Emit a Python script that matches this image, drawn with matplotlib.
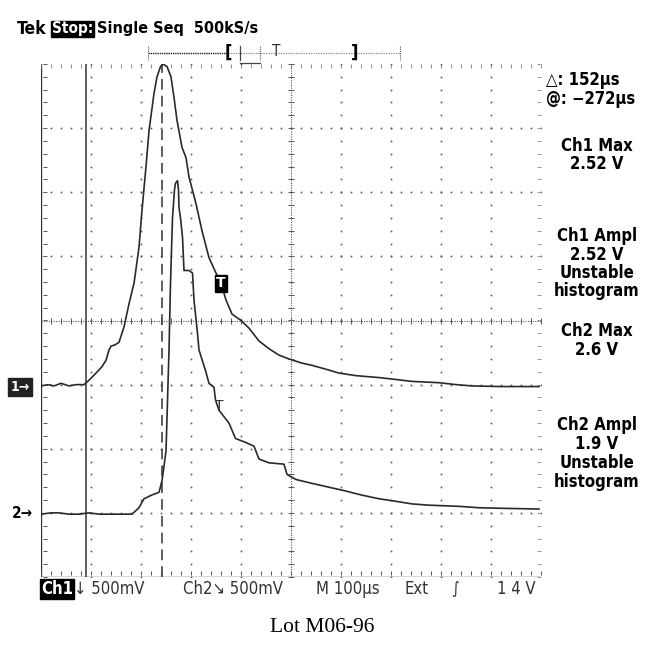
import numpy as np
import matplotlib.pyplot as plt

# screen samples: time in us from the left edge, volts
ch1_t = [0, 14, 26, 40, 56, 70, 86, 92, 100, 110, 122, 130, 136, 140, 148, 156, 166, 176,
         186, 196, 202, 210, 216, 226, 232, 239, 244, 252, 260, 266, 272, 282, 290, 296,
         310, 322, 336, 350, 360, 370, 382, 400, 416, 436, 456, 476, 496, 520, 542, 570,
         596, 630, 676, 710, 742, 770, 796, 830, 862, 920, 996]
ch1_v = [-0.01, 0.0, -0.01, 0.01, -0.01, 0.0, 0.0, 0.02, 0.05, 0.09, 0.14, 0.19, 0.27, 0.30,
         0.31, 0.33, 0.45, 0.63, 0.79, 1.07, 1.36, 1.70, 1.98, 2.27, 2.40, 2.48, 2.50, 2.48,
         2.40, 2.24, 2.06, 1.85, 1.77, 1.62, 1.41, 1.20, 0.99, 0.87, 0.79, 0.66, 0.55, 0.50,
         0.44, 0.34, 0.28, 0.23, 0.20, 0.17, 0.15, 0.12, 0.09, 0.07, 0.055, 0.04, 0.025,
         0.02, 0.015, 0.0, -0.01, -0.015, -0.015]

ch2_t = [0, 20, 36, 56, 76, 96, 116, 136, 156, 182, 196, 206, 222, 236, 242, 250, 252, 256,
         259, 263, 267, 269, 273, 275, 276, 279, 283, 286, 296, 303, 306, 313, 316, 329,
         336, 346, 349, 356, 376, 389, 409, 426, 436, 456, 486, 492, 510, 542, 576, 610,
         640, 676, 710, 742, 776, 810, 840, 876, 930, 996]
ch2_v = [-0.01, 0.0, 0.0, -0.01, -0.01, 0.0, -0.01, -0.01, -0.01, -0.01, 0.04, 0.11, 0.14,
         0.16, 0.25, 0.48, 0.74, 1.27, 1.79, 2.30, 2.52, 2.57, 2.59, 2.52, 2.38, 2.30, 2.15,
         1.89, 1.89, 1.87, 1.66, 1.40, 1.27, 1.11, 1.01, 0.98, 0.88, 0.80, 0.70, 0.58, 0.55,
         0.52, 0.42, 0.39, 0.38, 0.30, 0.26, 0.23, 0.20, 0.17, 0.14, 0.11, 0.09, 0.07, 0.06,
         0.055, 0.05, 0.04, 0.035, 0.03]

VOLTS_PER_DIV = 0.5
CH1_GND = -1.0   # divisions from screen centre
CH2_GND = -3.0
cursors = [90, 242]   # us, delta = 152 us

header = "Tek"
state = "Stop:"
mode = "Single Seq  500kS/s"
readouts = [("\u25b3: 152\u00b5s", 80), ("@: \u2212272\u00b5s", 99)]
measurements = ["Ch1 Max", "2.52 V", "Ch1 Ampl", "2.52 V", "Unstable", "histogram",
                "Ch2 Max", "2.6 V", "Ch2 Ampl", "1.9 V", "Unstable", "histogram"]
meas_y = [146, 164, 236, 255, 273, 291, 331, 350, 425, 444, 463, 482]
caption = "Lot M06-96"

W, H = 652, 646
fig = plt.figure(figsize=(W / 100, H / 100), dpi=100)
fig.patch.set_facecolor('white')

# overlay in pixel coordinates for the scope readouts
ov = fig.add_axes([0, 0, 1, 1])
ov.set_xlim(0, W)
ov.set_ylim(H, 0)
ov.axis('off')

# graticule: 10 x 8 divisions
ax = fig.add_axes([41 / W, (H - 577) / H, 500 / W, 513 / H])
ax.set_xlim(0, 1000)
ax.set_ylim(-4, 4)
ax.axis('off')

dot = dict(ls='none', marker='s', ms=1.2, color='#555555', mew=0)
xs = np.arange(0, 1000.1, 20)
ys = np.arange(-4, 4.001, 0.2)
for gy in [-3, -2, -1, 1, 2, 3]:
    ax.plot(xs, np.full_like(xs, gy), **dot)
for gx in [100, 200, 300, 400, 600, 700, 800, 900]:
    ax.plot(np.full_like(ys, gx), ys, **dot)

# centre crosshair with minor ticks
ax.plot([0, 1000], [0, 0], color='#555555', lw=0.8, ls=(0, (1, 1.2)))
ax.plot([500, 500], [-4, 4], color='#555555', lw=0.8, ls=(0, (1, 1.2)))
ax.plot(xs, np.zeros_like(xs), ls='none', marker='|', ms=5, color='#555555', mew=0.7)
ax.plot(np.full_like(ys, 500), ys, ls='none', marker='_', ms=5, color='#555555', mew=0.7)

# frame
ax.plot([0, 0], [-4, 4], color='#333333', lw=1.0)
ax.plot([0, 1000], [-4, -4], color='#333333', lw=1.0)
ax.plot(xs, np.full_like(xs, -3.93), ls='none', marker='|', ms=3, color='#555555', mew=0.7)
ax.plot(xs, np.full_like(xs, 3.97), ls='none', marker='|', ms=2.5, color='#777777', mew=0.6)
ax.plot(np.full_like(ys, 8), ys, ls='none', marker='_', ms=3, color='#555555', mew=0.7)
ax.plot(np.full_like(ys, 995), ys, ls='none', marker='_', ms=3, color='#888888', mew=0.6)

# cursors
ax.plot([cursors[0]] * 2, [-4, 4], color='#333333', lw=1.1)
ax.plot([cursors[1]] * 2, [-4, 4], color='#333333', lw=1.1, ls=(0, (7, 4)))

# traces
ch1_y = np.array(ch1_v) / VOLTS_PER_DIV + CH1_GND
ch2_y = np.array(ch2_v) / VOLTS_PER_DIV + CH2_GND
ax.plot(ch1_t, ch1_y, color='#2a2a2a', lw=1.2)
ax.plot(ch2_t, ch2_y, color='#2a2a2a', lw=1.2)

# trigger marks on the traces
ax.text(360, 0.79 / VOLTS_PER_DIV + CH1_GND, "T", color='white', fontsize=10,
        fontweight='bold', ha='center', va='center',
        bbox=dict(boxstyle='square,pad=0.1', fc='black', ec='black'))
ax.text(357, 0.83 / VOLTS_PER_DIV + CH2_GND, "T", color='#333333', fontsize=10,
        ha='center', va='center')

font = 'DejaVu Sans'
cond = dict(family=font, stretch='condensed')

# header
ov.text(17, 29, header, fontsize=12.5, fontweight='bold', va='center', **cond)
ov.text(52, 29, state, fontsize=11, fontweight='bold', va='center', color='white',
        bbox=dict(boxstyle='square,pad=0.05', fc='black', ec='black'), **cond)
ov.text(97, 29, mode, fontsize=11.6, fontweight='bold', va='center', **cond)

# record view bar
ov.plot([148, 228], [53, 53], color='#222222', lw=1.0, ls=(0, (1, 0.6)))
ov.plot([228, 400], [53, 53], color='#888888', lw=0.9, ls=(0, (1, 1)))
for bx in [148, 260, 400]:
    ov.plot([bx, bx], [46, 60], color='#555555', lw=0.8, ls=(0, (1, 1)))
ov.plot([240, 240], [46, 60], color='#444444', lw=0.9)
ov.plot([240, 260], [63, 63], color='#444444', lw=0.9)
ov.text(228, 53, "[", fontsize=13, fontweight='bold', ha='center', va='center', **cond)
ov.text(355, 53, "]", fontsize=13, fontweight='bold', ha='center', va='center', **cond)
ov.text(276, 51, "T", fontsize=11, ha='center', va='center', color='#333333', **cond)

# ground markers
ov.text(20, 387, "1\u2192", fontsize=10, fontweight='bold', ha='center', va='center',
        color='white', bbox=dict(boxstyle='square,pad=0.15', fc='#222222', ec='#222222'),
        **cond)
ov.text(22, 514, "2\u2192", fontsize=11, fontweight='bold', ha='center', va='center',
        **cond)

# cursor readouts and measurements
for s, y in readouts:
    ov.text(546, y, s, fontsize=12, fontweight='bold', va='center', **cond)
for s, y in zip(measurements, meas_y):
    ov.text(597, y, s, fontsize=12, fontweight='bold', ha='center', va='center', **cond)

# status line
ov.text(57, 589, "Ch1", fontsize=12, fontweight='bold', color='white', ha='center',
        va='center', bbox=dict(boxstyle='square,pad=0.05', fc='black', ec='black'), **cond)
ov.text(74, 589, "\u2193 500mV", fontsize=12, va='center', color='#333333', **cond)
ov.text(183, 589, "Ch2\u2198 500mV", fontsize=12, va='center', color='#333333', **cond)
ov.text(316, 589, "M 100\u00b5s", fontsize=12, va='center', color='#333333', **cond)
ov.text(405, 589, "Ext", fontsize=12, va='center', color='#333333', **cond)
ov.text(455, 589, "\u222b", fontsize=12, ha='center', va='center', color='#333333', **cond)
ov.text(536, 589, "1 4 V", fontsize=12, ha='right', va='center', color='#333333', **cond)

ov.text(322, 627, caption, fontsize=15.5, family='Liberation Serif', ha='center',
        va='center')

fig.savefig('out.png', dpi=100)
